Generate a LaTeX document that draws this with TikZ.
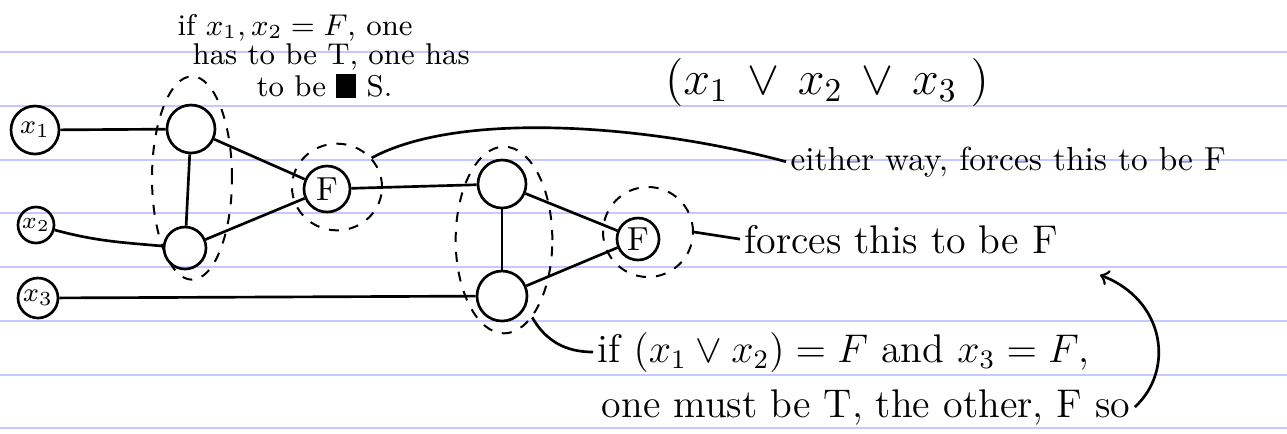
\documentclass[tikz,border=0pt]{standalone}
\usetikzlibrary{shapes.geometric}
\begin{document}
\begin{tikzpicture}[x=0.3pt, y=-0.3pt, thick,
		vertex/.style={circle, draw, inner sep=0pt, minimum size=14pt},
		group/.style={ellipse, draw, dashed, semithick, inner sep=0pt},
		note/.style={draw=none, inner sep=1pt},
		rule/.style={draw=blue!22, line width=0.5pt}]
		\useasboundingbox (0,0) rectangle (1287,433);
		\foreach \y in {52,106,160,213,267,321,375,428}
			\draw[rule] (0,\y) -- (1287,\y);
		\node[vertex, minimum size=14.4pt] (x1) at (35,130) {\footnotesize$x_1$};
		\node[vertex, minimum size=10.8pt] (x2) at (36,225) {\scriptsize$x_2$};
		\node[vertex, minimum size=12pt] (x3) at (38,298) {\footnotesize$x_3$};
		\node[vertex, minimum size=14.4pt] (a1) at (191,129) {};
		\node[vertex, minimum size=12.6pt] (b1) at (185,248) {};
		\node[vertex, minimum size=13.8pt] (f1) at (327,189) {F};
		\node[vertex, minimum size=14.4pt] (a2) at (502,184) {};
		\node[vertex, minimum size=15pt] (b2) at (502,296) {};
		\node[vertex, minimum size=12.6pt] (f2) at (638,239) {F};
		\node[group, minimum width=24pt, minimum height=61pt] (g1) at (192,178) {};
		\node[group, minimum width=27pt, minimum height=26pt] (g1f) at (337,187) {};
		\node[group, minimum width=29pt, minimum height=56pt] (g2) at (504,240) {};
		\node[group, minimum width=27pt, minimum height=27pt] (g2f) at (648,232) {};
		\node[note, anchor=base west] (if1) at (173,35) {\small if $x_1, x_2 = F$, one};
		\node[note, anchor=base west] (if2) at (188,64) {\small has to be T, one has};
		\node[note, anchor=base west] (if3) at (252,96) {\small to be \rule[-0.5pt]{6pt}{7pt} S.};
		\node[note] (clause) at (827,82) {\Large$(x_1 \,\vee\, x_2 \,\vee\, x_3 \;)$};
		\node[note, anchor=base west] (either) at (786,170) {either way, forces this to be F};
		\node[note, anchor=base west] (forces) at (740,253) {\large forces this to be F};
		\node[note, anchor=base west] (cond) at (593,362) {\large if $(x_1 \vee x_2) = F$ and $x_3 = F$,};
		\node[note, anchor=base west] (one) at (597,417) {\large one must be T, the other, F so};
		\coordinate (tip) at (1100,275);
		\draw (x1) -- (a1);
		\draw (x2) to[out=-15, in=175] (b1);
		\draw (x3) -- (b2);
		\draw (a1) -- (b1);
		\draw (a1) -- (f1);
		\draw (b1) -- (f1);
		\draw (f1) -- (a2);
		\draw (a2) -- (b2);
		\draw (a2) -- (f2);
		\draw (b2) -- (f2);
		\draw (g1f.40) .. controls (460,110) and (650,125) .. (either.west);
		\draw (g2f.east) -- (forces.west);
		\draw (g2.-70) to[out=-60, in=180] (cond.west);
		\draw[->] (one.east) .. controls (1175,370) and (1165,300) .. (tip);
	\end{tikzpicture}
\end{document}
